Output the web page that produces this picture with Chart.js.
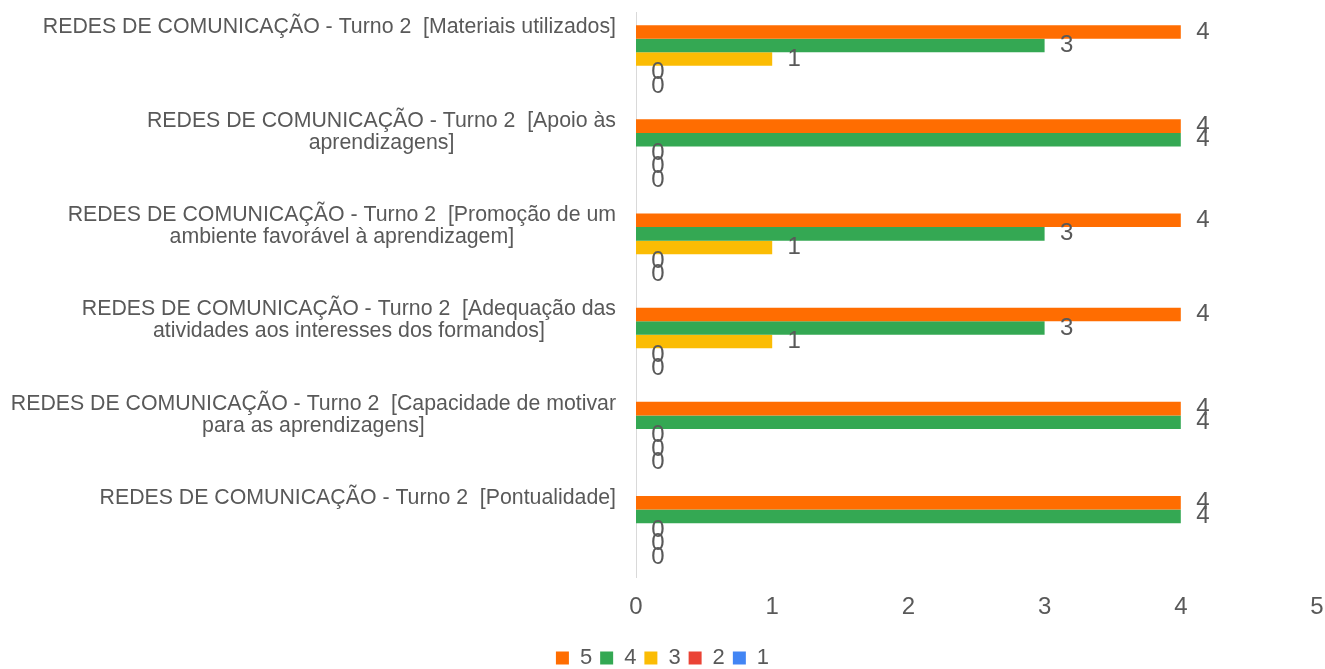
<!DOCTYPE html>
<html>
<head>
<meta charset="utf-8">
<script src="https://cdn.jsdelivr.net/npm/chart.js@4"></script>
<style>
	html, body { margin: 0; padding: 0; background: #fff; }
	#wrap { width: 1325px; height: 669px; position: relative; }
</style>
</head>
<body>
<div id="wrap"><canvas id="chart"></canvas></div>
<script>
// categorias (uma linha por entrada)
const categories = [
	[ 'REDES DE COMUNICAÇÃO - Turno 2  [Materiais utilizados]' ],
	[ 'REDES DE COMUNICAÇÃO - Turno 2  [Apoio às', 'aprendizagens]' ],
	[ 'REDES DE COMUNICAÇÃO - Turno 2  [Promoção de um', 'ambiente favorável à aprendizagem]' ],
	[ 'REDES DE COMUNICAÇÃO - Turno 2  [Adequação das', 'atividades aos interesses dos formandos]' ],
	[ 'REDES DE COMUNICAÇÃO - Turno 2  [Capacidade de motivar', 'para as aprendizagens]' ],
	[ 'REDES DE COMUNICAÇÃO - Turno 2  [Pontualidade]' ],
];

const seriesNames = [ '5', '4', '3', '2', '1' ];
const values5 = [ 4, 4, 4, 4, 4, 4 ];
const values4 = [ 3, 4, 3, 3, 4, 4 ];
const values3 = [ 1, 0, 1, 1, 0, 0 ];
const values2 = [ 0, 0, 0, 0, 0, 0 ];
const values1 = [ 0, 0, 0, 0, 0, 0 ];
const xTicks = [ 0, 1, 2, 3, 4, 5 ];

const colors = [ '#FF6D01', '#34A853', '#FBBC04', '#EA4335', '#4285F4' ];
const textColor = '#595959';
const fontFamily = '"Liberation Sans", Arial, sans-serif';

/**
 * Rótulos de valor ao lado de cada barra
 */
const valueLabels = {
	id: 'valueLabels',
	afterDatasetsDraw( chart ) {
		const ctx = chart.ctx;
		ctx.save();
		ctx.font = '24px ' + fontFamily;
		ctx.fillStyle = textColor;
		ctx.textAlign = 'center';
		ctx.textBaseline = 'middle';
		chart.data.datasets.forEach( ( ds, i ) => {
			const meta = chart.getDatasetMeta( i );
			meta.data.forEach( ( bar, j ) => {
				ctx.fillText( String( ds.data[ j ] ), bar.x + 22, bar.y );
			} );
		} );
		ctx.restore();
	},
};

/**
 * Rótulos das categorias (linhas centradas entre si, bloco alinhado à direita)
 */
const categoryLabels = {
	id: 'categoryLabels',
	afterDraw( chart ) {
		const ctx = chart.ctx;
		const yScale = chart.scales.y;
		const band = ( yScale.bottom - yScale.top ) / categories.length;
		ctx.save();
		ctx.font = '21.3px ' + fontFamily;
		ctx.fillStyle = textColor;
		ctx.textAlign = 'center';
		ctx.textBaseline = 'middle';
		categories.forEach( ( lines, i ) => {
			const maxW = Math.max( ...lines.map( ( l ) => ctx.measureText( l ).width ) );
			const cx = 616 - maxW / 2;
			const top = yScale.top + i * band;
			lines.forEach( ( line, j ) => {
				ctx.fillText( line, cx, top + 15 + j * 22 );
			} );
		} );
		ctx.restore();
	},
};

const datasetValues = [ values5, values4, values3, values2, values1 ];

new Chart( document.getElementById( 'chart' ), {
	type: 'bar',
	data: {
		labels: categories.map( ( l ) => l.join( ' ' ) ),
		datasets: datasetValues.map( ( data, i ) => ( {
			label: seriesNames[ i ],
			data,
			backgroundColor: colors[ i ],
			borderWidth: 0,
			categoryPercentage: 0.72,
			barPercentage: 1.0,
		} ) ),
	},
	options: {
		indexAxis: 'y',
		responsive: true,
		maintainAspectRatio: false,
		animation: false,
		devicePixelRatio: 1,
		layout: {
			padding: { left: 0, right: 0, top: 12, bottom: -10 },
		},
		scales: {
			x: {
				min: 0,
				max: 5,
				afterBuildTicks( scale ) {
					scale.ticks = xTicks.map( ( v ) => ( { value: v } ) );
				},
				grid: { display: false },
				border: { display: false },
				ticks: {
					color: textColor,
					font: { family: fontFamily, size: 24 },
					padding: 8,
				},
				afterFit( scale ) {
					scale.height = 62;
					scale.paddingLeft = 0;
					scale.paddingRight = 8;
				},
			},
			y: {
				grid: { display: false },
				border: { display: true, color: '#D9D9D9', width: 1 },
				ticks: { display: false },
				afterFit( scale ) {
					scale.width = 636;
				},
			},
		},
		plugins: {
			legend: {
				position: 'bottom',
				labels: {
					color: textColor,
					font: { family: fontFamily, size: 22 },
					boxWidth: 13,
					boxHeight: 13,
					padding: 8,
				},
			},
			tooltip: { enabled: false },
		},
	},
	plugins: [ valueLabels, categoryLabels ],
} );
</script>
</body>
</html>
